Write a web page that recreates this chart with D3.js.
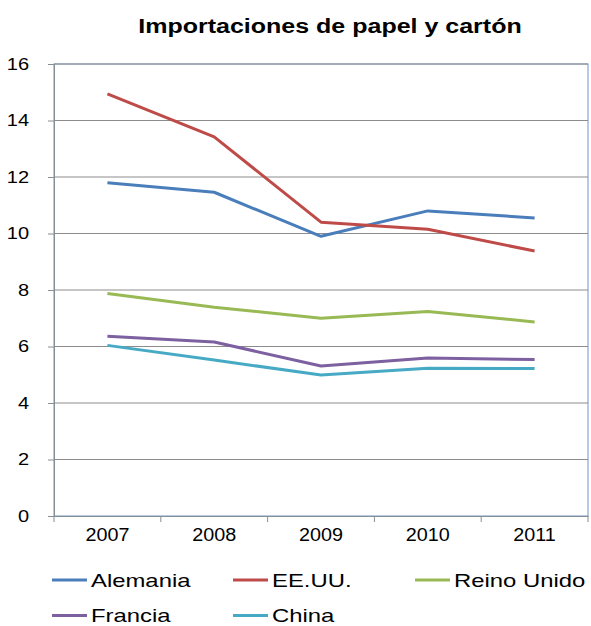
<!DOCTYPE html>
<html>
<head>
<meta charset="utf-8">
<script src="https://cdn.jsdelivr.net/npm/d3@7"></script>
<style>
  body { margin: 0; background: #fff; }
  svg { font-family: "Liberation Sans", Arial, sans-serif; }
</style>
</head>
<body>
<div id="chart"></div>
<script>
var years = ["2007", "2008", "2009", "2010", "2011"];
var seriesNames = ["Alemania", "EE.UU.", "Reino Unido", "Francia", "China"];
var alemania = [11.8, 11.46, 9.9, 10.8, 10.55];
var eeuu = [14.94, 13.42, 10.4, 10.15, 9.38];
var reinoUnido = [7.88, 7.39, 7.0, 7.24, 6.87];
var francia = [6.36, 6.16, 5.31, 5.59, 5.54];
var china = [6.04, 5.52, 4.99, 5.23, 5.22];
var yTicks = [0, 2, 4, 6, 8, 10, 12, 14, 16];
var colors = ["#4A7EBB", "#BE4B48", "#98B954", "#7D60A0", "#46AAC5"];

var allValues = [alemania, eeuu, reinoUnido, francia, china];
var width = 591, height = 626;
var margin = {top: 64, right: 3, bottom: 110, left: 54};

// the reference text is a bit wider than plain Arial
function stretch(sel, s) {
    sel.each(function() {
        var w = this.getComputedTextLength();
        d3.select(this)
            .attr("textLength", w * s)
            .attr("lengthAdjust", "spacingAndGlyphs");
    });
}

var svg = d3.select("#chart")
    .append("svg")
    .attr("width", width)
    .attr("height", height);

var x = d3.scaleBand()
    .domain(years)
    .range([margin.left, width - margin.right]);

var y = d3.scaleLinear()
    .domain([0, 16])
    .range([height - margin.bottom, margin.top]);

// title
svg.append("text")
    .attr("x", 330)
    .attr("y", 33)
    .attr("text-anchor", "middle")
    .style("font-size", "20px")
    .style("font-weight", "bold")
    .text("Importaciones de papel y cartón")
    .call(stretch, 1.25);

// plot border
svg.append("rect")
    .attr("x", margin.left)
    .attr("y", margin.top)
    .attr("width", width - margin.left - margin.right)
    .attr("height", height - margin.top - margin.bottom)
    .attr("fill", "none")
    .attr("stroke", "#6f95c9");

// grid
svg.append("g")
    .selectAll("line")
    .data(yTicks.slice(1))
    .enter()
    .append("line")
    .attr("x1", margin.left)
    .attr("x2", width - margin.right)
    .attr("y1", function(d) { return y(d); })
    .attr("y2", function(d) { return y(d); })
    .attr("stroke", "#8c8c8c")
    .attr("stroke-width", 1);

// y axis
var yAxis = svg.append("g")
    .attr("transform", "translate(" + margin.left + ",0)")
    .call(d3.axisLeft(y).tickValues(yTicks).tickSize(6).tickPadding(19));
yAxis.select(".domain").attr("stroke", "#868e96");
yAxis.selectAll(".tick line").attr("stroke", "#868e96");
yAxis.selectAll(".tick text")
    .style("font-size", "16px")
    .attr("font-family", null)
    .attr("fill", "#000")
    .call(stretch, 1.25);

// x axis
var xAxis = svg.append("g")
    .attr("transform", "translate(0," + (height - margin.bottom) + ")")
    .call(d3.axisBottom(x).tickSize(0).tickPadding(13));
xAxis.select(".domain").attr("stroke", "#868e96");
xAxis.selectAll(".tick text")
    .style("font-size", "17.5px")
    .attr("font-family", null)
    .attr("fill", "#000")
    .call(stretch, 1.13);

// category boundary ticks
var bounds = years.map(function(d) { return x(d); }).concat([x(years[years.length - 1]) + x.bandwidth()]);
svg.append("g")
    .selectAll("line")
    .data(bounds)
    .enter()
    .append("line")
    .attr("x1", function(d) { return d; })
    .attr("x2", function(d) { return d; })
    .attr("y1", height - margin.bottom)
    .attr("y2", height - margin.bottom + 6)
    .attr("stroke", "#868e96");

// lines
var line = d3.line()
    .x(function(d, i) { return x(years[i]) + x.bandwidth() / 2; })
    .y(function(d) { return y(d); });

svg.append("g")
    .selectAll("path")
    .data(allValues)
    .enter()
    .append("path")
    .attr("d", function(d) { return line(d); })
    .attr("fill", "none")
    .attr("stroke", function(d, i) { return colors[i]; })
    .attr("stroke-width", 3)
    .attr("stroke-linejoin", "round");

// legend
var legendPos = [
    {x: 52, y: 580}, {x: 233, y: 580}, {x: 415, y: 580},
    {x: 52, y: 615.5}, {x: 233, y: 615.5}
];
var legend = svg.append("g")
    .selectAll("g")
    .data(seriesNames)
    .enter()
    .append("g")
    .attr("transform", function(d, i) { return "translate(" + legendPos[i].x + "," + legendPos[i].y + ")"; });

legend.append("line")
    .attr("x1", 0)
    .attr("x2", 35)
    .attr("y1", 0)
    .attr("y2", 0)
    .attr("stroke", function(d, i) { return colors[i]; })
    .attr("stroke-width", 3);

legend.append("text")
    .attr("x", 39)
    .attr("y", 6.5)
    .style("font-size", "18.5px")
    .text(function(d) { return d; })
    .call(stretch, 1.29);
</script>
</body>
</html>
